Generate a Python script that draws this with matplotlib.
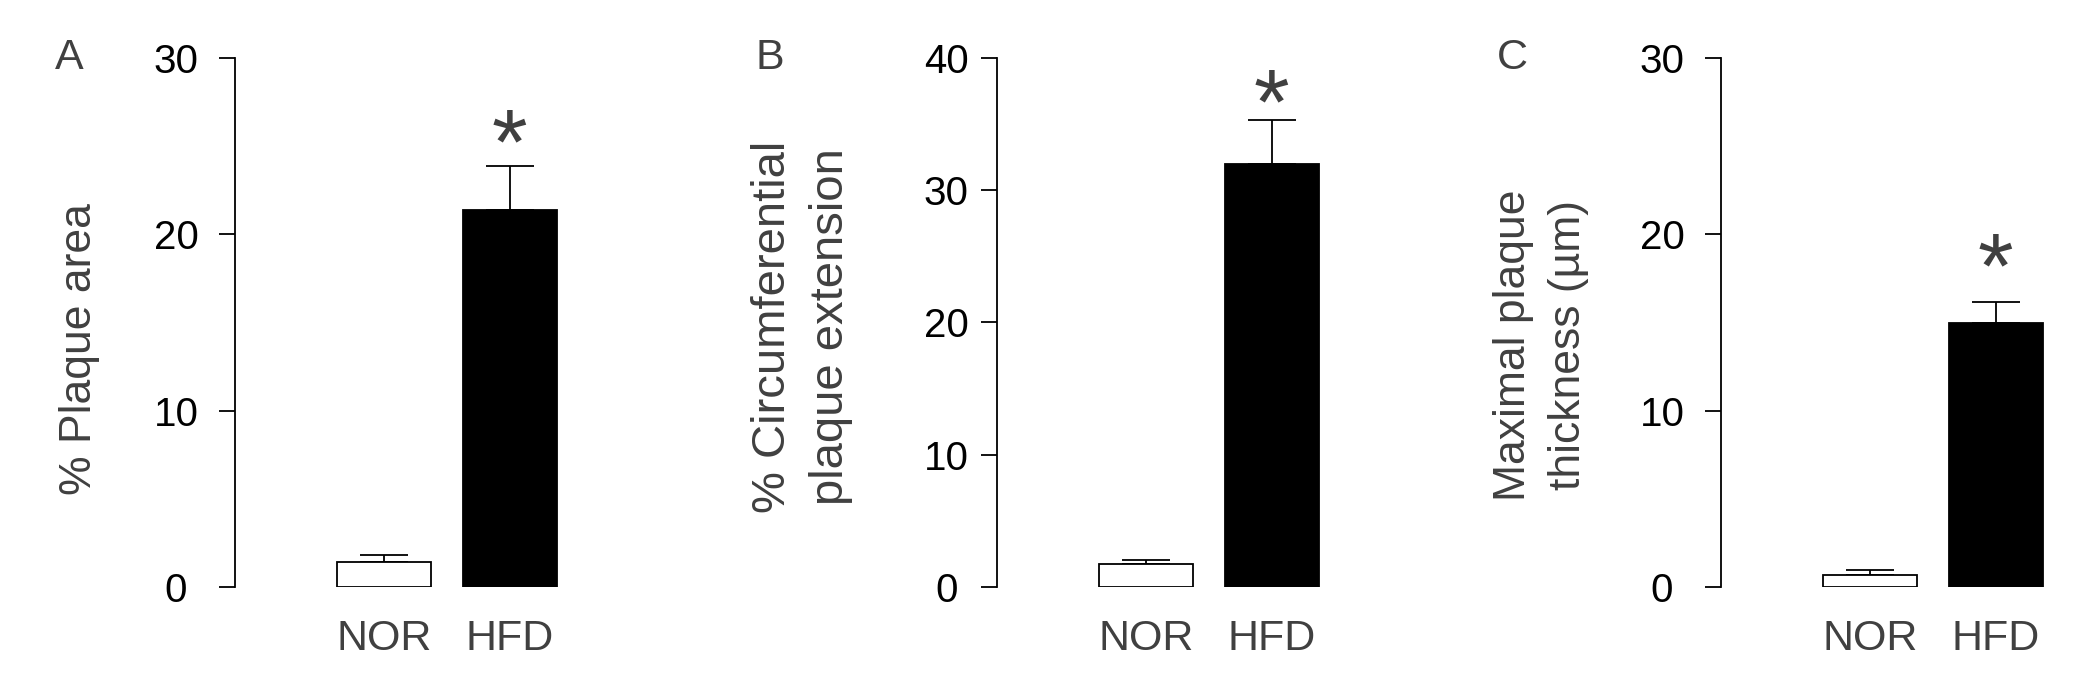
import matplotlib.pyplot as plt

plt.rcParams['font.family'] = ['Liberation Sans', 'DejaVu Sans']

groups = ['NOR', 'HFD']
letters = ['A', 'B', 'C']
ylabels = ['% Plaque area',
           '% Circumferential\nplaque extension',
           'Maximal plaque\nthickness (µm)']
means_a = [1.44, 21.4]
errs_a = [0.37, 2.45]
means_b = [1.75, 31.95]
errs_b = [0.27, 3.38]
means_c = [0.70, 14.98]
errs_c = [0.24, 1.19]
ymax = [30, 40, 30]
yticks = [[0, 10, 20, 30], [0, 10, 20, 30, 40], [0, 10, 20, 30]]

means = [means_a, means_b, means_c]
errs = [errs_a, errs_b, errs_c]

W, H = 2100, 690
fig = plt.figure(figsize=(21, 6.9), dpi=100)

# layout in pixels
spine_x = [235, 997, 1721]
bottom_px, top_px = 587, 58
ylab_cx = [80, 802, 1541]     # label block centre (px)
ylab_cy = [349, 327, 345]
ylab_fs = [32, 34, 32]
ylab_ls = [1.2, 1.42, 1.45]
tick_pad = [31, 25, 31]
letter_x = [69, 770, 1512]
star_off = [36, 29, 48]       # px from error cap to star centre
unit = 125.5
xl = (-1.19, 1.5)
ax_w = (xl[1] - xl[0]) * unit

gray = '#404040'
star_fs = 66
for i in range(3):
    ax = fig.add_axes([spine_x[i] / W, (H - bottom_px) / H,
                       ax_w / W, (bottom_px - top_px) / H])
    ax.bar([0, 1], means[i], width=0.75, color=['white', 'black'],
           edgecolor='black', linewidth=1.3, zorder=2)
    ax.errorbar([0, 1], means[i], yerr=[[0, 0], errs[i]], fmt='none',
                ecolor='black', elinewidth=1.3, capsize=17, capthick=1.3,
                zorder=1)
    # asterisk glyph centre sits roughly 0.47 em above the baseline
    off_pt = star_off[i] * 72 / 100 - 0.47 * star_fs
    ax.annotate('*', xy=(1, means[i][1] + errs[i][1]), xytext=(0, off_pt),
                textcoords='offset points', ha='center', va='baseline',
                fontsize=star_fs, color=gray)
    ax.set_xlim(*xl)
    ax.set_ylim(0, ymax[i])
    ax.set_yticks(yticks[i])
    ax.tick_params(axis='y', direction='out', length=11.5, width=1.3,
                   pad=tick_pad[i], labelsize=29, labelcolor='black')
    for lab in ax.get_yticklabels():
        lab.set_horizontalalignment('center')
    ax.set_xticks([0, 1])
    ax.set_xticklabels(groups)
    ax.tick_params(axis='x', length=0, pad=23, labelsize=31,
                   labelcolor=gray)
    for s in ['top', 'right', 'bottom']:
        ax.spines[s].set_visible(False)
    ax.spines['left'].set_linewidth(1.3)
    fig.text(ylab_cx[i] / W, (H - ylab_cy[i]) / H, ylabels[i],
             rotation=90, ha='center', va='center', fontsize=ylab_fs[i],
             color=gray, linespacing=ylab_ls[i])
    fig.text(letter_x[i] / W, (H - 58) / H, letters[i], ha='center',
             va='center', fontsize=31, color=gray)

fig.savefig('out.png', dpi=100)
